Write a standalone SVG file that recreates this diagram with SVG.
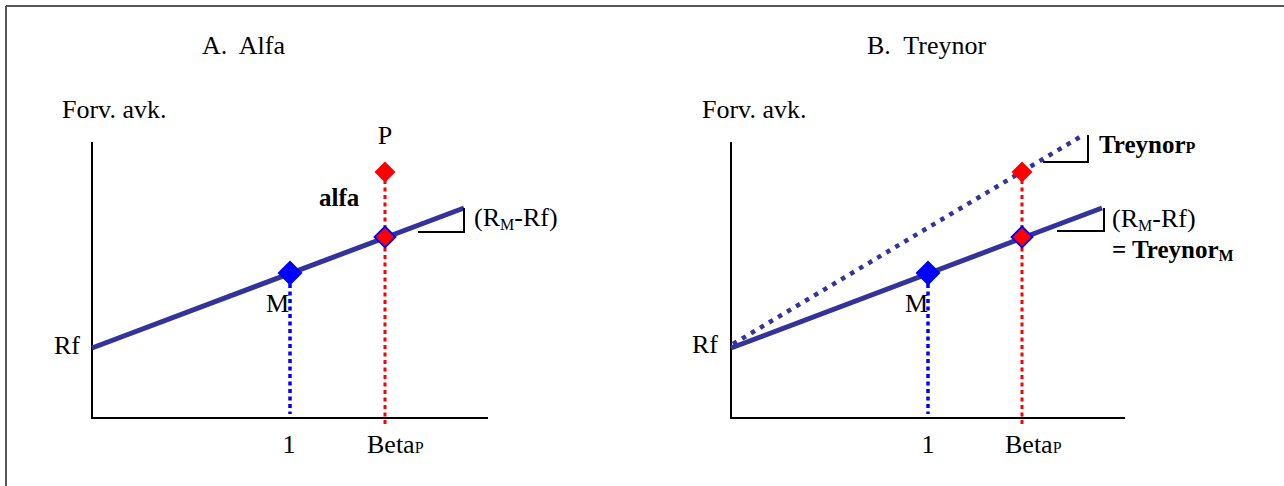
<svg xmlns="http://www.w3.org/2000/svg" width="1284" height="486" viewBox="0 0 1284 486">
<style>
text{font-family:"Liberation Serif","Times New Roman",serif;fill:#000;font-size:26px}
.b{font-weight:bold;font-size:25px}
.sub{font-size:16px}
.axis{stroke:#000;stroke-width:2;fill:none}
.sml{stroke:#333399;stroke-width:5;fill:none}
.tp{stroke:#333399;stroke-width:4.5;stroke-dasharray:4.5 6;fill:none}
.bd{stroke:#0000ff;stroke-width:3.5;stroke-dasharray:4 3.5;fill:none}
.rd{stroke:#ff0000;stroke-width:3;stroke-dasharray:4 3.5;fill:none}
.tri{stroke:#000;stroke-width:2;fill:none}
.dm{fill:#0000ff}
.dp{fill:#ff0000}
.dq{fill:#ff0000;stroke:#0000ff;stroke-width:1.8}
</style>
<defs>
<path id="dmd" d="M0,-12.5 L12.5,0 L0,12.5 L-12.5,0 Z"/>
<path id="dsm" d="M0,-10.5 L10.5,0 L0,10.5 L-10.5,0 Z"/>
</defs>
<rect width="1284" height="486" fill="#fff"/>
<g id="frame">
<line x1="6" y1="6" x2="1284" y2="6" stroke="#555" stroke-width="2"/>
<line x1="6" y1="6" x2="6" y2="486" stroke="#555" stroke-width="2"/>
</g>
<g id="panelA">
<text x="202" y="54" xml:space="preserve">A.  Alfa</text>
<text x="62" y="118">Forv. avk.</text>
<g id="connectorsA">
<polyline class="axis" points="92,142 92,418 488,418"/>
<line class="bd" x1="290" y1="284" x2="290" y2="414"/>
<line class="rd" x1="385" y1="180" x2="385" y2="424"/>
<line class="sml" x1="92" y1="348" x2="464" y2="208"/>
<polyline class="tri" points="418,232 464,232 464,208"/>
</g>
<g id="nodeA-M"><use href="#dmd" class="dm" x="290" y="273"/><text x="266" y="312">M</text></g>
<g id="nodeA-P"><use href="#dsm" class="dp" x="385" y="172"/><text x="385" y="144" text-anchor="middle">P</text></g>
<g id="nodeA-Q"><use href="#dsm" class="dq" x="385" y="237"/></g>
<text class="b" x="319" y="206">alfa</text>
<text x="474" y="226">(R<tspan class="sub" dy="4">M</tspan><tspan dy="-4">-Rf)</tspan></text>
<text x="54" y="354">Rf</text>
<text x="289" y="453" text-anchor="middle">1</text>
<text x="367" y="453">Beta<tspan class="sub">P</tspan></text>
</g>
<g id="panelB">
<text x="867" y="54" xml:space="preserve">B.  Treynor</text>
<text x="702" y="118">Forv. avk.</text>
<g id="connectorsB">
<polyline class="axis" points="731,142 731,418 1125,418"/>
<line class="bd" x1="928" y1="284" x2="928" y2="414"/>
<line class="rd" x1="1022" y1="180" x2="1022" y2="424"/>
<line class="tp" x1="733" y1="344" x2="1080" y2="137"/>
<line class="sml" x1="731" y1="348" x2="1102" y2="208"/>
<polyline class="tri" points="1043,162 1088,162 1088,135"/>
<polyline class="tri" points="1057,231 1104,231 1104,208"/>
</g>
<g id="nodeB-M"><use href="#dmd" class="dm" x="928" y="273"/><text x="905" y="312">M</text></g>
<g id="nodeB-P"><use href="#dsm" class="dp" x="1022" y="172"/></g>
<g id="nodeB-Q"><use href="#dsm" class="dq" x="1022" y="237"/></g>
<text class="b" x="1099" y="153">Treynor<tspan class="sub">P</tspan></text>
<text x="1112" y="227">(R<tspan class="sub" dy="4">M</tspan><tspan dy="-4">-Rf)</tspan></text>
<text class="b" x="1112" y="258">= Treynor<tspan class="sub" dy="3">M</tspan></text>
<text x="692" y="353">Rf</text>
<text x="928" y="453" text-anchor="middle">1</text>
<text x="1005" y="453">Beta<tspan class="sub">P</tspan></text>
</g>
</svg>
